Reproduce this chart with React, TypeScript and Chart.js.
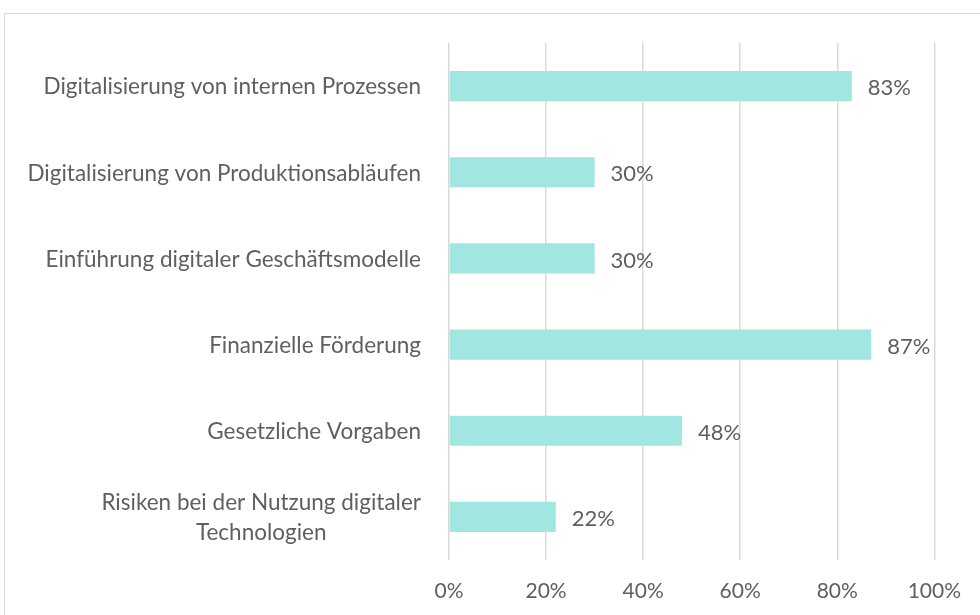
import React, { useEffect, useRef } from "react";
import { Chart, registerables } from "chart.js";

Chart.register(...registerables);

const categories: string[][] = [
  ["Digitalisierung von internen Prozessen"],
  ["Digitalisierung von Produktionsabläufen"],
  ["Einführung digitaler Geschäftsmodelle"],
  ["Finanzielle Förderung"],
  ["Gesetzliche Vorgaben"],
  ["Risiken bei der Nutzung digitaler", "Technologien"],
];
const values: number[] = [83, 30, 30, 87, 48, 22];
const tickValues: number[] = [0, 20, 40, 60, 80, 100];

const FONT = "Lato, 'Open Sans', sans-serif";
const TEXT = "#5f5f5f";

const labelPlugin = {
  id: "customLabels",
  afterDatasetsDraw(chart: any) {
    const ctx = chart.ctx;
    const meta = chart.getDatasetMeta(0);
    const yScale = chart.scales.y;
    ctx.save();
    ctx.fillStyle = TEXT;
    ctx.textBaseline = "middle";
    // value labels
    ctx.font = `22px ${FONT}`;
    meta.data.forEach((bar: any, i: number) => {
      ctx.textAlign = "left";
      ctx.fillText(values[i] + "%", bar.x + 16, bar.y + 2);
    });
    // category labels
    ctx.font = `22.5px ${FONT}`;
    const rightX = chart.chartArea.left - 28;
    categories.forEach((lines, i) => {
      const cy = yScale.getPixelForValue(i);
      if (lines.length === 1) {
        ctx.textAlign = "right";
        ctx.fillText(lines[0], rightX, cy + 1);
      } else {
        const widths = lines.map((l) => ctx.measureText(l).width);
        const maxW = Math.max(...widths);
        const center = rightX - maxW / 2;
        const spacing = 30;
        const startY = cy - ((lines.length - 1) * spacing) / 2;
        ctx.textAlign = "center";
        lines.forEach((l, j) => ctx.fillText(l, center, startY + j * spacing + 1));
      }
    });
    ctx.restore();
  },
};

export default function App() {
  const ref = useRef<HTMLCanvasElement | null>(null);
  useEffect(() => {
    if (!ref.current) return;
    const chart = new Chart(ref.current, {
      type: "bar",
      data: {
        labels: categories.map((c) => c.join(" ")),
        datasets: [
          {
            data: values,
            backgroundColor: "#a1e6e0",
            borderWidth: 0,
            categoryPercentage: 1,
            barPercentage: 0.35,
          },
        ],
      },
      options: {
        indexAxis: "y",
        animation: false,
        responsive: false,
        maintainAspectRatio: false,
        layout: { padding: { top: 43, right: 44, left: 0, bottom: 0 } },
        plugins: { legend: { display: false }, tooltip: { enabled: false } },
        scales: {
          x: {
            min: 0,
            max: 100,
            afterBuildTicks(axis: any) {
              axis.ticks = tickValues.map((v) => ({ value: v }));
            },
            afterFit(axis: any) {
              axis.height = 55;
            },
            ticks: {
              color: TEXT,
              font: { family: FONT, size: 21 },
              padding: 19,
              callback: (v: any) => v + "%",
            },
            grid: { color: "#d9d9d9", lineWidth: 1.5, drawTicks: false },
            border: { display: false },
          },
          y: {
            afterFit(axis: any) {
              axis.width = 449;
            },
            ticks: { display: false },
            grid: { display: false, drawTicks: false },
            border: { display: false },
          },
        },
      },
      plugins: [labelPlugin],
    });
    return () => chart.destroy();
  }, []);
  return (
    <div style={{ position: "fixed", left: 0, top: 0, width: 980, height: 615, background: "#fff", overflow: "hidden" }}>
      <div
        style={{
          position: "absolute",
          left: 4,
          top: 13,
          width: 1000,
          height: 700,
          border: "1.5px solid #d9d9d9",
          boxSizing: "border-box",
        }}
      />
      <canvas ref={ref} width={980} height={615} style={{ position: "absolute", left: 0, top: 0 }} />
    </div>
  );
}
